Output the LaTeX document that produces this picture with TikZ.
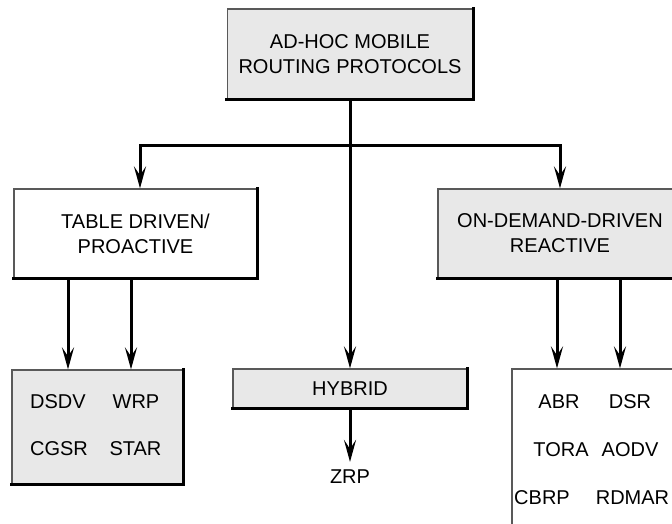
\documentclass[tikz,border=0pt]{standalone}
\usepackage{fontspec}
\setmainfont{Liberation Sans}
\usetikzlibrary{arrows.meta}
\definecolor{panel}{HTML}{E8E8E8}
\begin{document}
\begin{tikzpicture}[x=1pt,y=-1pt,
  txt/.style={font=\fontsize{20}{24}\selectfont, inner sep=0pt, align=center},
  panelbox/.style={draw=black!65, line width=1.2pt, fill=#1, inner sep=0pt,
    align=center, font=\fontsize{20}{25}\selectfont},
  panelbox/.default=panel,
  shade edge/.style={line width=3pt, line cap=rect},
  link/.style={line width=3pt, -{Stealth[length=22pt, width=12pt, inset=9pt]}},
  trunk/.style={line width=3pt}]
\useasboundingbox (0,0) rectangle (672,523);
\clip (0,0) rectangle (672,523);

% classification boxes
\node[panelbox, minimum width=245pt, minimum height=90pt] (root) at (350,54)
  {AD-HOC MOBILE\\ROUTING PROTOCOLS};
\node[panelbox=white, minimum width=243pt, minimum height=89pt] (table) at (135.5,233.5)
  {TABLE DRIVEN/\\PROACTIVE};
\node[panelbox, minimum width=244pt, minimum height=89pt] (ondemand) at (560,233.5)
  {ON-DEMAND-DRIVEN\\REACTIVE};
\node[panelbox, minimum width=234pt, minimum height=39pt] (hybrid) at (350,388.5)
  {HYBRID};

% protocol groups
\node[panelbox, minimum width=171pt, minimum height=114pt] (leftset) at (97.5,427) {};
\node[panelbox=white, minimum width=188pt, minimum height=191pt] (rightset) at (606,464.5) {};

\node[txt] (dsdv) at (58,402) {DSDV};
\node[txt] (wrp) at (136,402) {WRP};
\node[txt] (cgsr) at (59,449) {CGSR};
\node[txt] (star) at (135.5,449) {STAR};

\node[txt] (abr) at (559,402) {ABR};
\node[txt] (dsr) at (630,402) {DSR};
\node[txt] (tora) at (561,450) {TORA};
\node[txt] (aodv) at (630,450) {AODV};
\node[txt] (cbrp) at (542,498) {CBRP};
\node[txt] (rdmar) at (632.5,498) {RDMAR};

\node[txt] (zrp) at (350,477) {ZRP};

% heavy lower and right edges of the boxes
\foreach \b in {root,table,ondemand,hybrid,leftset}
  \draw[shade edge] (\b.south west) -- (\b.south east) -- (\b.north east);

% connectors
\coordinate (split) at (350,145);
\draw[trunk] (root.south) -- (split);
\draw[link] (split) -- (hybrid.north);
\draw[link] (split) -| ([xshift=4.5pt]table.north);
\draw[link] (split) -| (ondemand.north);

\draw[link] ([xshift=-67.5pt]table.south) -- ([xshift=-67.5pt]table.south |- leftset.north);
\draw[link] ([xshift=-4.5pt]table.south) -- ([xshift=-4.5pt]table.south |- leftset.north);

\draw[link] ([xshift=-3pt]ondemand.south) -- ([xshift=-3pt]ondemand.south |- rightset.north);
\draw[link] ([xshift=60pt]ondemand.south) -- ([xshift=60pt]ondemand.south |- rightset.north);

\draw[link, shorten >=8pt] (hybrid.south) -- (zrp.north);
\end{tikzpicture}
\end{document}
